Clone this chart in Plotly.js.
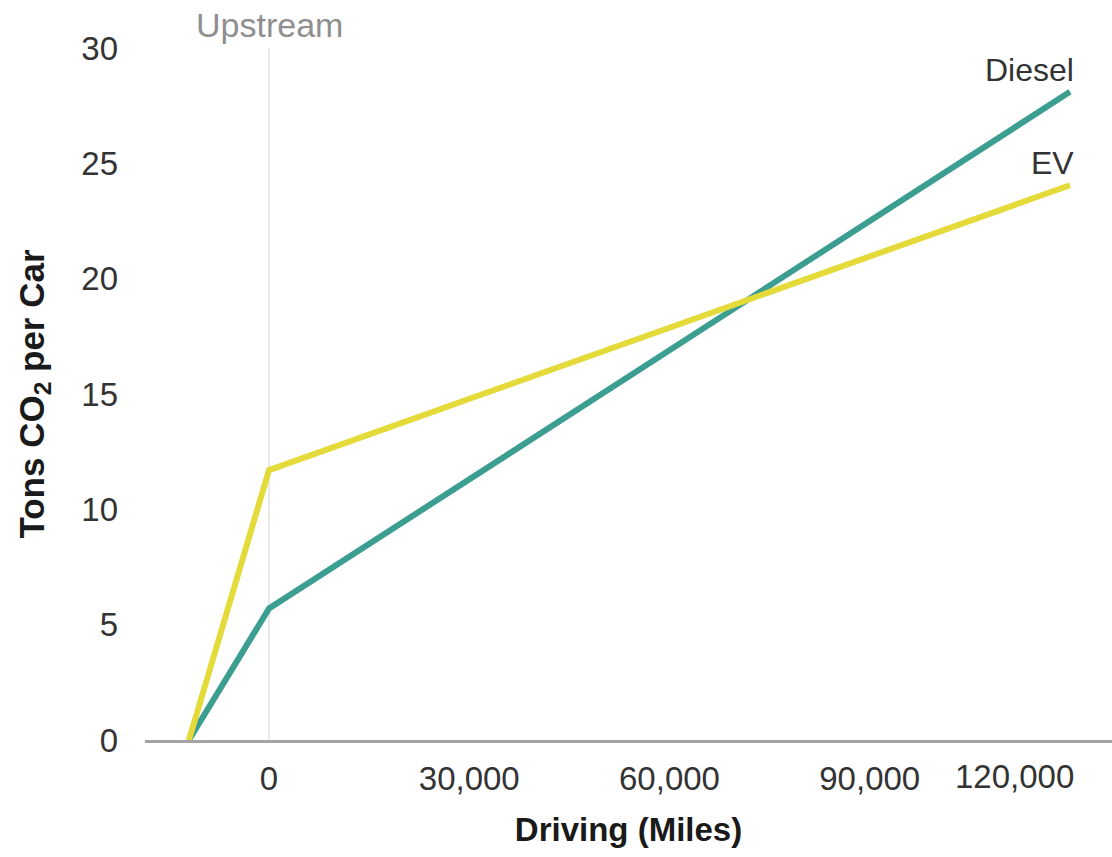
<!DOCTYPE html>
<html>
<head>
<meta charset="utf-8">
<script src="https://cdn.plot.ly/plotly-3.0.1.min.js"></script>
<style>html,body{margin:0;padding:0;background:#fff;}#chart{width:1112px;height:857px;}</style>
</head>
<body>
<div id="chart"></div>
<script>
// Data
const miles = [-12000, 0, 120000];
const dieselTons = [0, 5.7, 28.1];
const evTons = [0, 11.7, 24.05];
const seriesNames = ["Diesel", "EV"];
const xTickVals = [0, 30000, 60000, 90000, 120000];
const xTickText = ["0", "30,000", "60,000", "90,000", "120,000"];
const yTickVals = [0, 5, 10, 15, 20, 25, 30];
const upstreamLabel = "Upstream";

const FONT = "Liberation Sans, Arial, sans-serif";
const TEAL = "#3b9e90";
const YELLOW = "#e4db3a";
const TICK_SIZE = 33;

const traces = [
  {x: miles, y: dieselTons, name: seriesNames[0], mode: "lines", line: {color: TEAL, width: 6}, hoverinfo: "x+y+name"},
  {x: miles, y: evTons, name: seriesNames[1], mode: "lines", line: {color: YELLOW, width: 6}, hoverinfo: "x+y+name"}
];

const lastIdx = miles.length - 1;
const annotations = [
  {x: 0, xref: "x", y: 1, yref: "paper", yanchor: "bottom", xanchor: "center", showarrow: false,
   text: upstreamLabel, font: {family: FONT, size: 34, color: "#8f8f8f"}, yshift: 2},
  {x: miles[lastIdx], y: dieselTons[lastIdx], xref: "x", yref: "y", xanchor: "right", yanchor: "bottom",
   showarrow: false, text: seriesNames[0], font: {family: FONT, size: 32, color: "#333"}, xshift: 6, yshift: 2},
  {x: miles[lastIdx], y: evTons[lastIdx], xref: "x", yref: "y", xanchor: "right", yanchor: "bottom",
   showarrow: false, text: seriesNames[1], font: {family: FONT, size: 32, color: "#333"}, xshift: 6, yshift: 2},
  // last x tick label, right-aligned to stay inside the figure
  {x: xTickVals[xTickVals.length - 1], xref: "x", y: 0, yref: "paper", xanchor: "right", yanchor: "top",
   showarrow: false, text: xTickText[xTickText.length - 1], font: {family: FONT, size: TICK_SIZE, color: "#333"}, xshift: 6, yshift: -16}
];

const layout = {
  width: 1112, height: 857,
  margin: {l: 145, r: 0, t: 48, b: 117},
  paper_bgcolor: "#fff", plot_bgcolor: "#fff",
  showlegend: false,
  font: {family: FONT, color: "#333"},
  xaxis: {
    range: [-18580, 126300],
    tickvals: xTickVals.slice(0, xTickVals.length - 1),
    ticktext: xTickText.slice(0, xTickText.length - 1),
    tickfont: {family: FONT, size: TICK_SIZE, color: "#333"},
    ticks: "", ticklabelstandoff: 8,
    showgrid: false,
    zeroline: true, zerolinecolor: "#e8e8e8", zerolinewidth: 1.5,
    showline: true, linecolor: "#a3a3a3", linewidth: 2.5,
    title: {text: "<b>Driving (Miles)</b>", font: {family: FONT, size: 33, color: "#1a1a1a"}, standoff: 22},
    fixedrange: true
  },
  yaxis: {
    range: [0, 30],
    tickvals: yTickVals,
    tickfont: {family: FONT, size: TICK_SIZE, color: "#333"},
    ticks: "", ticklabelstandoff: 26,
    showgrid: false, zeroline: false, showline: false,
    title: {text: "<b>Tons CO<sub>2</sub> per Car</b>", font: {family: FONT, size: 35, color: "#1a1a1a"}, standoff: 26},
    fixedrange: true
  },
  annotations: annotations
};

Plotly.newPlot("chart", traces, layout, {displayModeBar: false, staticPlot: true});
</script>
</body>
</html>
